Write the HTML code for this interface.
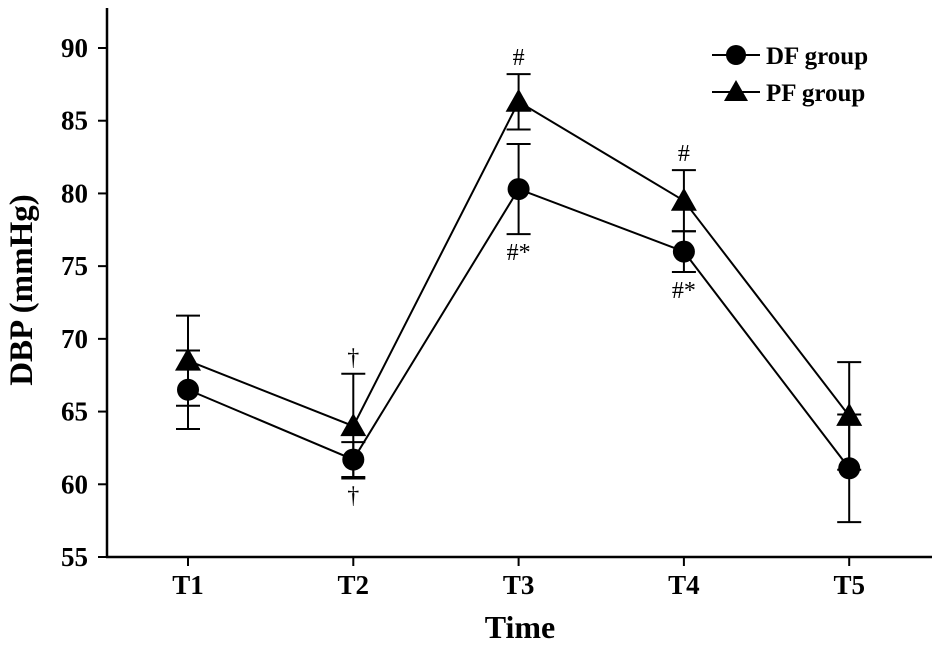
<!DOCTYPE html>
<html><head><meta charset="utf-8"><style>
body{margin:0;background:#fff}
text{font-family:"Liberation Serif",serif;font-weight:bold;fill:#000}
</style></head><body>
<svg id="chart" width="945" height="651" viewBox="0 0 945 651" xmlns="http://www.w3.org/2000/svg">
<g id="axes"></g>
<g id="marks"></g>
<text x="32" y="290" font-size="33" text-anchor="middle" transform="rotate(-90 32 290)">DBP (mmHg)</text>
<text x="520" y="638" font-size="32" text-anchor="middle">Time</text>
<g>
<g><line x1="712" y1="55" x2="760" y2="55" stroke="#000" stroke-width="2"/><circle cx="736" cy="55" r="10"/><text x="766" y="64" font-size="25">DF group</text></g>
<g><line x1="712" y1="92" x2="760" y2="92" stroke="#000" stroke-width="2"/><polygon points="736,80 748,101 724,101"/><text x="766" y="101" font-size="25">PF group</text></g>
</g>
</svg>
<script>
const categories=["T1","T2","T3","T4","T5"];
const dfValues=[66.5,61.7,80.3,76.0,61.1];
const dfErr=[2.7,1.2,3.1,1.4,3.7];
const pfValues=[68.5,64.0,86.3,79.5,64.7];
const pfErr=[3.1,3.6,1.9,2.1,3.7];
const yTicks=[55,60,65,70,75,80,85,90];
const pfAnnot=["","†","#","#",""];
const dfAnnot=["","†","#*","#*",""];
const NS="http://www.w3.org/2000/svg";
function y(v){return 557-(v-55)*(557-48)/35;}
function x(i){return 188+i*165.3;}
function mk(t,a,p){const e=document.createElementNS(NS,t);for(const k in a)e.setAttribute(k,a[k]);p.appendChild(e);return e;}
const ax=document.getElementById('axes'),mg=document.getElementById('marks');
let l=mk('line',{x1:107,y1:8,x2:107,y2:558,stroke:'#000','stroke-width':2.5},ax);

l=mk('line',{x1:106,y1:557,x2:932,y2:557,stroke:'#000','stroke-width':2.5},ax);

yTicks.forEach(v=>{mk('line',{x1:98,y1:y(v),x2:107,y2:y(v),stroke:'#000','stroke-width':2},ax);
 const t=mk('text',{x:88,y:y(v)+9,'font-size':27,'text-anchor':'end'},ax);t.textContent=v;
 });
categories.forEach((c,i)=>{mk('line',{x1:x(i),y1:557,x2:x(i),y2:566,stroke:'#000','stroke-width':2},ax);
 const t=mk('text',{x:x(i),y:594,'font-size':27,'text-anchor':'middle'},ax);t.textContent=c;
 });
function series(vals,errs,name,tri,annot,up){
 const g=mk('g',{},mg);
 mk('polyline',{points:vals.map((v,i)=>x(i)+','+y(v)).join(' '),fill:'none',stroke:'#000','stroke-width':2},g);
 vals.forEach((v,i)=>{const X=x(i),a=y(v+errs[i]),b=y(v-errs[i]);
  mk('line',{x1:X,y1:a,x2:X,y2:b,stroke:'#000','stroke-width':2},g);
  mk('line',{x1:X-12,y1:a,x2:X+12,y2:a,stroke:'#000','stroke-width':2},g);
  mk('line',{x1:X-12,y1:b,x2:X+12,y2:b,stroke:'#000','stroke-width':2},g);
  let m;
  if(tri)m=mk('polygon',{points:`${X},${y(v)-13} ${X+13},${y(v)+10} ${X-13},${y(v)+10}`},g);
  else m=mk('circle',{cx:X,cy:y(v),r:11},g);
  
  if(annot[i]){const ty=up?a-9:b+26;const t=mk('text',{x:X,y:ty,'font-size':24,'text-anchor':'middle'},g);
   t.style.fontWeight='normal';t.textContent=annot[i];
   }
 });
}
series(dfValues,dfErr,'df-series',false,dfAnnot,false);
series(pfValues,pfErr,'pf-series',true,pfAnnot,true);
</script>
</body></html>
